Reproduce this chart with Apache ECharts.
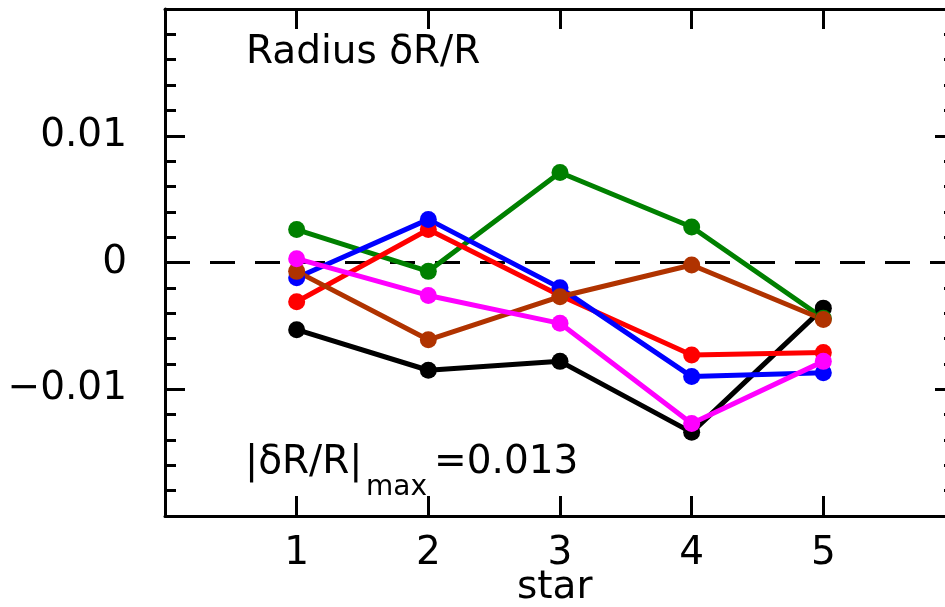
<!DOCTYPE html>
<html>
<head>
<meta charset="utf-8">
<script src="https://cdn.jsdelivr.net/npm/echarts@6/dist/echarts.min.js"></script>
<style>
  html, body { margin: 0; padding: 0; background: #fff; }
  #chart { width: 945px; height: 607px; }
</style>
</head>
<body>
<div id="chart"></div>
<script>
// Fractional radius deviation per star, one array per model run
const stars = [1, 2, 3, 4, 5];
const runBlack   = [-0.0053, -0.0085, -0.0078, -0.0134, -0.0036];
const runGreen   = [ 0.0026, -0.0007,  0.0071,  0.0028, -0.0044];
const runRed     = [-0.0031,  0.0026, -0.0026, -0.0073, -0.0071];
const runBlue    = [-0.0012,  0.0034, -0.0020, -0.0090, -0.0087];
const runBrown   = [-0.0007, -0.0061, -0.0027, -0.0002, -0.0045];
const runMagenta = [ 0.0003, -0.0026, -0.0048, -0.0127, -0.0078];

// Reference line at zero
const zeroX = [0, 6];
const zeroY = [0, 0];

// Axis tick labels
const xTickLabels = ['1', '2', '3', '4', '5'];
const yTickLabels = { '0.01': '0.01', '0': '0', '-0.01': '\u22120.01' };

const FONT = 'DejaVu Sans';
const FS = 39;

function pairs(xs, ys) { return xs.map((x, i) => [x, ys[i]]); }

function runSeries(name, color, values) {
  return {
    name: name,
    type: 'line',
    data: pairs(stars, values),
    symbol: 'circle',
    symbolSize: 17,
    lineStyle: { color: color, width: 5 },
    itemStyle: { color: color },
    z: 3
  };
}

const axisLineStyle = { color: '#000', width: 3 };

function xAxisDef(position, showLabels) {
  return {
    type: 'value',
    position: position,
    min: 0, max: 6, interval: 1,
    axisLine: { show: true, onZero: false, lineStyle: axisLineStyle },
    axisTick: { show: true, inside: true, length: 20, lineStyle: { color: '#000', width: 3 } },
    splitLine: { show: false },
    axisLabel: {
      show: showLabels,
      margin: 18,
      color: '#000',
      fontFamily: FONT,
      fontSize: FS,
      formatter: v => {
        const i = stars.indexOf(v);
        return i >= 0 ? xTickLabels[i] : '';
      }
    }
  };
}

function yAxisDef(position, showLabels) {
  return {
    type: 'value',
    position: position,
    min: -0.02, max: 0.02, interval: 0.01,
    axisLine: { show: true, onZero: false, lineStyle: axisLineStyle },
    axisTick: { show: true, inside: true, length: 20, lineStyle: { color: '#000', width: 3 } },
    minorTick: { show: true, splitNumber: 5, length: 11, lineStyle: { color: '#000', width: 3 } },
    splitLine: { show: false },
    minorSplitLine: { show: false },
    axisLabel: {
      show: showLabels,
      margin: 38,
      color: '#000',
      fontFamily: FONT,
      fontSize: FS,
      formatter: v => {
        const key = String(Math.round(v * 1000) / 1000);
        return yTickLabels[key] !== undefined ? yTickLabels[key] : '';
      }
    }
  };
}

const chart = echarts.init(document.getElementById('chart'), null, { renderer: 'canvas' });

chart.setOption({
  animation: false,
  backgroundColor: '#fff',
  grid: { left: 165, top: 9, width: 790, height: 507, containLabel: false, outerBoundsMode: 'none' },
  xAxis: [xAxisDef('bottom', true), xAxisDef('top', false)],
  yAxis: [yAxisDef('left', true), yAxisDef('right', false)],
  series: [
    {
      name: 'zero',
      type: 'line',
      data: pairs(zeroX, zeroY),
      symbol: 'none',
      lineStyle: { color: '#000', width: 3, type: [25, 20] },
      z: 2
    },
    runSeries('black', '#000000', runBlack),
    runSeries('green', '#008000', runGreen),
    runSeries('red', '#ff0000', runRed),
    runSeries('blue', '#0000ff', runBlue),
    runSeries('brown', '#b03300', runBrown),
    runSeries('magenta', '#ff00ff', runMagenta)
  ],
  graphic: [
    {
      type: 'text', left: 246, top: 33,
      style: { text: 'Radius \u03b4R/R', fontFamily: FONT, fontSize: FS, fill: '#000' }
    },
    {
      type: 'text', left: 245, top: 443,
      style: { text: '|\u03b4R/R|', fontFamily: FONT, fontSize: FS, fill: '#000' }
    },
    {
      type: 'text', left: 366, top: 474,
      style: { text: 'max', fontFamily: FONT, fontSize: 28, fill: '#000' }
    },
    {
      type: 'text', left: 434, top: 443,
      style: { text: '=0.013', fontFamily: FONT, fontSize: FS, fill: '#000' }
    },
    // x-axis title
    {
      type: 'text', left: 517, top: 568,
      style: { text: 'star', fontFamily: FONT, fontSize: FS, fill: '#000' }
    }
  ]
});
</script>
</body>
</html>
